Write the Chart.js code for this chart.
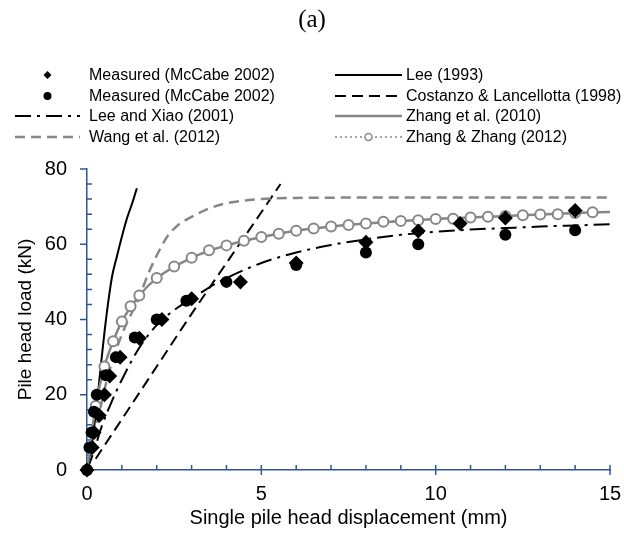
<!DOCTYPE html>
<html>
<head>
<meta charset="utf-8">
<script src="https://cdn.jsdelivr.net/npm/chart.js@4.4.1/dist/chart.umd.min.js"></script>
<style>
  html, body { margin: 0; padding: 0; background: #fff; }
  #wrap { position: relative; width: 624px; height: 534px; font-family: "Liberation Sans", Arial, sans-serif; }
  #chart { position: absolute; left: 0; top: 0; }
  #title { position: absolute; left: 0; top: 5px; width: 624px; text-align: center;
           font: 25px "Liberation Serif", "Times New Roman", serif; }
  .lg { position: absolute; height: 20px; line-height: 20px; font-size: 16px; white-space: nowrap; }
  .lg svg { position: absolute; top: 4px; }
  .lg span { position: absolute; top: 0; }
</style>
</head>
<body>
<div id="wrap">
  <canvas id="chart" width="624" height="534"></canvas>
  <div id="title">(a)</div>
  <div id="legend"></div>
</div>
<script>
// measured points (McCabe 2002), two test series
const diamondX = [0, 0.15, 0.2, 0.35, 0.5, 0.65, 0.95, 1.5, 2.15, 3.0, 4.4, 6.0, 8.0, 9.5, 10.7, 12.0, 14.0];
const diamondY = [0, 6, 10, 14.5, 20, 25, 30, 35, 40, 45.5, 50, 55, 60.5, 63.5, 65.5, 67, 69];
const circleX = [0, 0.07, 0.13, 0.2, 0.28, 0.54, 0.83, 1.37, 2.0, 2.85, 4.0, 6.0, 8.0, 9.5, 12.0, 14.0];
const circleY = [0, 6, 10, 15.5, 20, 25.2, 30, 35.2, 40, 45, 50, 54.5, 57.8, 60, 62.5, 63.7];

// predicted curves
const leeX = [0, 0.1, 0.2, 0.3, 0.4, 0.5, 0.6, 0.72, 0.85, 1.0, 1.15, 1.3, 1.43];
const leeY = [0, 5, 11, 19, 28, 36.5, 44, 51.5, 56.5, 62, 67, 71, 74.9];
const costanzoX = [0.25, 1, 2, 3, 4, 5, 5.55];
const costanzoY = [3, 13.5, 27.5, 41.5, 55, 68.5, 76];
const leeXiaoX = [0, 0.2, 0.4, 0.7, 1, 1.5, 2, 2.5, 3, 3.5, 4, 5, 6, 7, 8, 9, 10, 11, 12, 13, 14, 15];
const leeXiaoY = [0, 5, 11, 18, 24, 32.5, 38.5, 42.5, 45.5, 48.5, 51, 55, 57.8, 59.8, 61.3, 62.5, 63.3, 63.9, 64.3, 64.7, 65, 65.3];
const wangX = [0, 0.3, 0.6, 1, 1.5, 1.75, 2, 2.3, 2.6, 3, 3.5, 4, 5, 6, 8, 10, 15];
const wangY = [0, 13, 25, 36, 46, 52, 57, 62, 65, 67.3, 69.5, 70.9, 72, 72.3, 72.4, 72.4, 72.4];
const zhang2010X = [0, 0.25, 0.5, 0.75, 1, 1.5, 2, 3, 4, 5, 6, 7, 8, 10, 12, 14, 15];
const zhang2010Y = [0, 17, 27.5, 34.2, 39.5, 46.4, 51, 56.4, 59.7, 61.9, 63.6, 64.7, 65.5, 66.7, 67.5, 68.3, 68.6];
const zhangZhangX = [0, 0.25, 0.5, 0.75, 1, 1.25, 1.5, 2, 2.5, 3, 3.5, 4, 4.5, 5, 5.5, 6, 6.5, 7, 7.5, 8,
                     8.5, 9, 9.5, 10, 10.5, 11, 11.5, 12, 12.5, 13, 13.5, 14, 14.5];
const zhangZhangY = [0, 17, 27.5, 34.2, 39.5, 43.5, 46.4, 51, 54.1, 56.4, 58.4, 59.7, 60.9, 61.9, 62.8, 63.6, 64.2, 64.7, 65.1, 65.5,
                     66, 66.2, 66.4, 66.7, 66.8, 67.1, 67.3, 67.5, 67.7, 67.9, 68, 68.3, 68.5];

const xTicks = [0, 5, 10, 15];
const yTicks = [0, 20, 40, 60, 80];
const xMinorStep = 1;
const yMinorStep = 4;

const AXIS = '#2F5597';
const GRAY = '#878787';
const FONT = '"Liberation Sans", Arial, sans-serif';

const pts = (xs, ys) => xs.map((x, i) => ({ x: x, y: ys[i] }));

function curve(label, xs, ys, color, dash, width) {
  return {
    label: label, data: pts(xs, ys), showLine: true, fill: false,
    borderColor: color, borderWidth: width, borderDash: dash,
    cubicInterpolationMode: 'monotone', pointRadius: 0
  };
}

const dsDiamond = {
  label: 'Measured (McCabe 2002)', data: pts(diamondX, diamondY), showLine: false,
  pointStyle: 'rectRot', pointRadius: 7.5, backgroundColor: '#000', borderColor: '#000', borderWidth: 0, clip: false
};
const dsCircle = {
  label: 'Measured (McCabe 2002)', data: pts(circleX, circleY), showLine: false,
  pointStyle: 'circle', pointRadius: 6, backgroundColor: '#000', borderColor: '#000', borderWidth: 0, clip: false
};
const dsZhangZhang = {
  label: 'Zhang & Zhang (2012)', data: pts(zhangZhangX, zhangZhangY), showLine: true, fill: false,
  borderColor: GRAY, borderWidth: 1.5, borderDash: [2, 3], cubicInterpolationMode: 'monotone',
  pointStyle: 'circle', pointRadius: 5, pointBackgroundColor: '#fff', pointBorderColor: GRAY, pointBorderWidth: 2
};
const dsZhang2010 = curve('Zhang et al. (2010)', zhang2010X, zhang2010Y, GRAY, [], 2.5);
const dsLeeXiao = curve('Lee and Xiao (2001)', leeXiaoX, leeXiaoY, '#000', [16, 6, 3, 6], 2);
const dsWang = curve('Wang et al. (2012)', wangX, wangY, GRAY, [10, 6], 2.5);
const dsLee = curve('Lee (1993)', leeX, leeY, '#000', [], 2);
const dsCostanzo = curve('Costanzo & Lancellotta (1998)', costanzoX, costanzoY, '#000', [11, 6], 2);

// first dataset is painted last, so markers go first
const datasets = [dsDiamond, dsCircle, dsZhangZhang, dsZhang2010, dsLeeXiao, dsWang, dsLee, dsCostanzo];

const axisTicks = {
  id: 'axisTicks',
  beforeDatasetsDraw(chart) {
    const { ctx, chartArea: a, scales: { x, y } } = chart;
    ctx.save();
    ctx.strokeStyle = AXIS;
    ctx.lineWidth = 1.5;
    ctx.beginPath();
    for (let v = x.min; v <= x.max; v += xMinorStep) {
      const px = x.getPixelForValue(v);
      ctx.moveTo(px, a.bottom - 5);
      ctx.lineTo(px, xTicks.includes(v) ? a.bottom + 5 : a.bottom);
    }
    for (let v = y.min; v <= y.max; v += yMinorStep) {
      const py = y.getPixelForValue(v);
      if (yTicks.includes(v)) { ctx.moveTo(a.left - 7, py); ctx.lineTo(a.left, py); }
      else { ctx.moveTo(a.left, py); ctx.lineTo(a.left + 5, py); }
    }
    ctx.stroke();
    ctx.restore();
  }
};

new Chart(document.getElementById('chart'), {
  type: 'scatter',
  data: { datasets: datasets },
  options: {
    responsive: false,
    animation: false,
    layout: { padding: { top: 169, right: 14, left: 0, bottom: 0 } },
    plugins: { legend: { display: false }, tooltip: { enabled: false } },
    scales: {
      x: {
        type: 'linear', min: 0, max: 15,
        afterFit(s) { s.height = 64; s.paddingLeft = 0; s.paddingRight = 0; },
        afterBuildTicks(s) { s.ticks = xTicks.map(v => ({ value: v })); },
        grid: { display: false, drawTicks: false },
        border: { display: true, color: AXIS, width: 1.5 },
        ticks: { color: '#000', font: { size: 20, family: FONT }, padding: 12, maxRotation: 0 },
        title: { display: true, text: 'Single pile head displacement (mm)', color: '#000',
                 font: { size: 20, family: FONT }, padding: { top: 0, bottom: 4 } }
      },
      y: {
        type: 'linear', min: 0, max: 80,
        afterFit(s) { s.width = 87; s.paddingTop = 0; s.paddingBottom = 0; },
        afterBuildTicks(s) { s.ticks = yTicks.map(v => ({ value: v })); },
        grid: { display: false, drawTicks: false },
        border: { display: true, color: AXIS, width: 1.5 },
        ticks: { color: '#000', font: { size: 20, family: FONT }, padding: 20 },
        title: { display: true, text: 'Pile head load (kN)', color: '#000',
                 font: { size: 19, family: FONT }, padding: { top: 14, bottom: 0 } }
      }
    }
  },
  plugins: [axisTicks]
});

// legend: two columns, drawn as html
const legendCols = [
  { sample: 15, width: 65, text: 89, items: [dsDiamond, dsCircle, dsLeeXiao, dsWang] },
  { sample: 335, width: 67, text: 406, items: [dsLee, dsCostanzo, dsZhang2010, dsZhangZhang] }
];
const legendRows = [75, 95.5, 116, 136.5];

function sampleSvg(ds, w) {
  const mid = w / 2;
  let s = '';
  if (ds.showLine) {
    s += `<line x1="0" y1="6" x2="${w}" y2="6" stroke="${ds.borderColor}" stroke-width="${ds.borderWidth}"` +
         (ds.borderDash.length ? ` stroke-dasharray="${ds.borderDash.join(' ')}"` : '') + '/>';
  }
  if (ds.pointStyle === 'rectRot' && !ds.showLine) {
    s += `<polygon points="${mid},2 ${mid + 4},6 ${mid},10 ${mid - 4},6" fill="#000"/>`;
  } else if (ds.pointStyle === 'circle' && !ds.showLine) {
    s += `<circle cx="${mid}" cy="6" r="4" fill="#000"/>`;
  } else if (ds.pointRadius > 0) {
    s += `<circle cx="${mid}" cy="6" r="3.5" fill="#fff" stroke="${GRAY}" stroke-width="1.5"/>`;
  }
  return `<svg width="${w}" height="12" style="left:0">${s}</svg>`;
}

const legend = document.getElementById('legend');
legendCols.forEach(col => {
  col.items.forEach((ds, i) => {
    const row = document.createElement('div');
    row.className = 'lg';
    row.style.left = col.sample + 'px';
    row.style.top = (legendRows[i] - 10) + 'px';
    row.innerHTML = sampleSvg(ds, col.width) +
      `<span style="left:${col.text - col.sample}px">${ds.label.replace('&', '&amp;')}</span>`;
    legend.appendChild(row);
  });
});
</script>
</body>
</html>
